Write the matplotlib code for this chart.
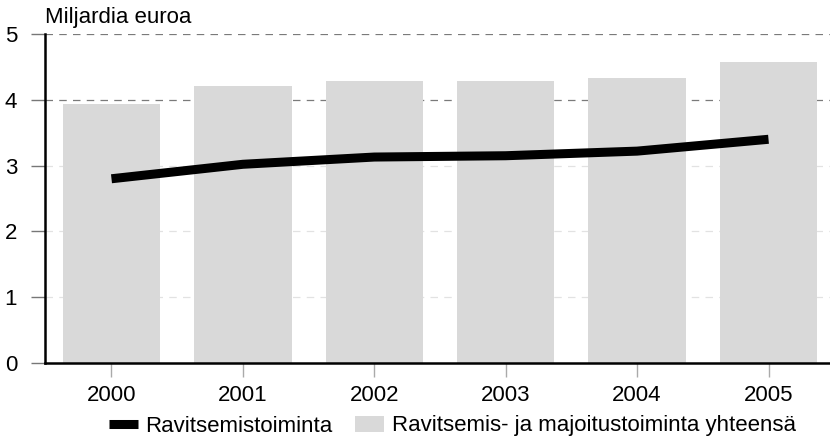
import matplotlib.pyplot as plt

vuodet = ['2000', '2001', '2002', '2003', '2004', '2005']
yhteensa = [3.93, 4.21, 4.29, 4.29, 4.33, 4.57]
ravitsemis = [2.80, 3.02, 3.13, 3.15, 3.22, 3.40]

plt.rcParams['font.family'] = ['Liberation Sans', 'DejaVu Sans']

fig = plt.figure(figsize=(8.3, 4.42), dpi=100)
ax = fig.add_axes([45 / 830, 79 / 442, 785 / 830, 329 / 442])

x = list(range(len(vuodet)))
ax.bar(x, yhteensa, width=0.74, color='#d9d9d9', zorder=2,
       label='Ravitsemis- ja majoitustoiminta yhteensä')
ax.plot(x, ravitsemis, color='black', linewidth=6.5, solid_capstyle='butt',
        zorder=3, label='Ravitsemistoiminta')

ax.set_xlim(-0.506, 5.468)
ax.set_ylim(0, 5)
ax.set_yticks([0, 1, 2, 3, 4, 5])
ax.set_xticks(x)
ax.set_xticklabels(vuodet)

# gridlines: upper ones darker, lower ones very faint
ax.hlines([4, 5], -0.506, 5.468, colors='#7a7a7a', linestyles=(0, (6, 5)),
          linewidth=0.9, zorder=1)
ax.hlines([1, 2, 3], -0.506, 5.468, colors='#e2e2e2', linestyles=(0, (6, 5)),
          linewidth=0.9, zorder=1)

for s in ['top', 'right']:
    ax.spines[s].set_visible(False)
ax.spines['left'].set_linewidth(1.8)
ax.spines['bottom'].set_linewidth(1.8)
ax.tick_params(axis='y', length=10, width=1, color='#777777', labelsize=16, pad=10)
ax.tick_params(axis='x', length=10, width=1, color='#aaaaaa', labelsize=16, pad=6)

fig.text(45 / 830, 1 - 18 / 442, 'Miljardia euroa', fontsize=16, va='center', ha='left')

h, l = ax.get_legend_handles_labels()
fig.legend(h, l, loc='center', bbox_to_anchor=(0.545, 1 - 426 / 442),
           ncol=2, frameon=False, fontsize=16, handlelength=1.3, handletextpad=0.35,
           columnspacing=1.0, borderaxespad=0)

fig.savefig('out.png', dpi=100)
